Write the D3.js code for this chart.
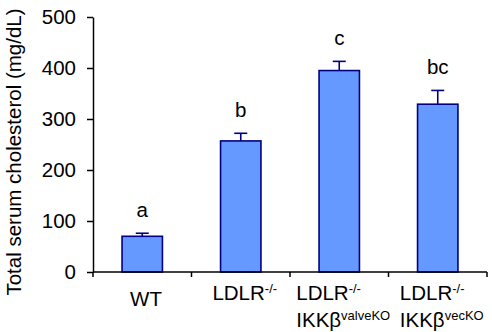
<!DOCTYPE html>
<html><head><meta charset="utf-8">
<script src="https://cdn.jsdelivr.net/npm/d3@7"></script>
<style>body{margin:0;background:#fff}svg{display:block}text{font-family:"Liberation Sans",Arial,sans-serif;fill:#000}</style>
</head><body><svg id="c" width="492" height="332"></svg>
<script>
const categories = ["WT", "LDLR", "LDLR IKKβ valve", "LDLR IKKβ vec"];
const labelLines = [
  [[["WT",""]]],
  [[["LDLR","-/-"]]],
  [[["LDLR","-/-"]],[["IKKβ","valveKO"]]],
  [[["LDLR","-/-"]],[["IKKβ","vecKO"]]]
];
const means = [70, 257, 395, 329];
const errors = [6, 15, 18, 27];
const groupLetters = ["a", "b", "c", "bc"];
const yTicks = [0, 100, 200, 300, 400, 500];

const FS = 20.5;
const svg = d3.select("#c");
const x = d3.scaleBand().domain(categories).range([93, 487]).padding(0);
const y = d3.scaleLinear().domain([0, 500]).range([272, 17]);
const barW = x.bandwidth() * 0.41;
const navy = "#000080";

// bars
svg.selectAll("rect.bar").data(means).join("rect")
  .attr("x", (d,i) => x(categories[i]) + x.bandwidth()/2 - barW/2)
  .attr("y", d => y(d)).attr("width", barW).attr("height", d => y(0) - y(d))
  .attr("fill", "#6699FF").attr("stroke", navy).attr("stroke-width", 1.6);

// error bars
const eg = svg.selectAll("g.err").data(means).join("g");
eg.append("line")
  .attr("x1", (d,i) => x(categories[i]) + x.bandwidth()/2)
  .attr("x2", (d,i) => x(categories[i]) + x.bandwidth()/2)
  .attr("y1", d => y(d)).attr("y2", (d,i) => y(d + errors[i]))
  .attr("stroke", navy).attr("stroke-width", 1.6);
eg.append("line")
  .attr("x1", (d,i) => x(categories[i]) + x.bandwidth()/2 - 6.5)
  .attr("x2", (d,i) => x(categories[i]) + x.bandwidth()/2 + 6.5)
  .attr("y1", (d,i) => y(d + errors[i])).attr("y2", (d,i) => y(d + errors[i]))
  .attr("stroke", navy).attr("stroke-width", 1.6);

// letters
svg.selectAll("text.let").data(groupLetters).join("text")
  .attr("x", (d,i) => x(categories[i]) + x.bandwidth()/2)
  .attr("y", (d,i) => y(means[i] + errors[i]) - 16)
  .attr("text-anchor", "middle").attr("font-size", FS).text(d => d);

// y axis
const ya = svg.append("g").attr("transform", "translate(93,0)")
  .call(d3.axisLeft(y).tickValues(yTicks).tickSize(6).tickPadding(11).tickSizeOuter(0));
ya.select(".domain").attr("stroke", "#000").attr("stroke-width", 1.5);
ya.selectAll(".tick line").attr("stroke", "#000").attr("stroke-width", 1.5);
ya.selectAll(".tick text").attr("font-size", FS).attr("font-family", '"Liberation Sans",Arial,sans-serif');

// x axis
svg.append("line").attr("x1", x.range()[0]).attr("x2", x.range()[1])
  .attr("y1", y(0)).attr("y2", y(0)).attr("stroke", "#000").attr("stroke-width", 1.5);
const bounds = categories.map(c => x(c)).concat([x.range()[1]]);
svg.selectAll("line.xt").data(bounds).join("line")
  .attr("x1", d => d).attr("x2", d => d).attr("y1", y(0)).attr("y2", y(0) + 5)
  .attr("stroke", "#000").attr("stroke-width", 1.5);

// x labels
labelLines.forEach((lines, i) => {
  const g = svg.append("g");
  const single = lines.length === 1 && i === 0;
  lines.forEach((line, li) => {
    const t = g.append("text").attr("font-size", FS)
      .attr("y", single ? 306 : 300 + li * 27);
    line.forEach(([main, sup]) => {
      t.append("tspan").text(main);
      if (sup) t.append("tspan").attr("font-size", 13).attr("dy", -7).text(sup);
    });
  });
  const bb = g.node().getBBox();
  const cx = x(categories[i]) + x.bandwidth()/2 + 4;
  g.attr("transform", `translate(${cx - bb.width/2},0)`);
});

// y title
svg.append("text").attr("transform", "translate(21,152) rotate(-90)")
  .attr("text-anchor", "middle").attr("font-size", FS)
  .text("Total serum cholesterol (mg/dL)");
</script></body></html>
